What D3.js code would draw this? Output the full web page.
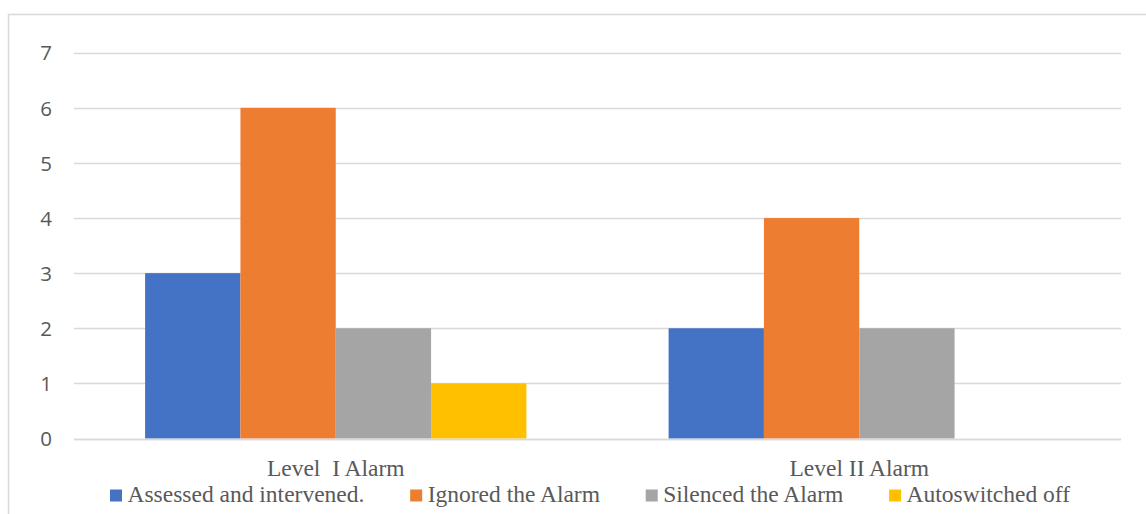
<!DOCTYPE html>
<html>
<head>
<meta charset="utf-8">
<script src="https://cdn.jsdelivr.net/npm/d3@7"></script>
<style>
  html, body { margin: 0; padding: 0; background: #fff; }
  svg { display: block; }
</style>
</head>
<body>
<svg id="chart" width="1146" height="514"></svg>
<script>
const categories = ["Level  I Alarm", "Level II Alarm"];
const seriesNames = ["Assessed and intervened.", "Ignored the Alarm", "Silenced the Alarm", "Autoswitched off"];
const seriesColors = ["#4472C4", "#ED7D31", "#A5A5A5", "#FFC000"];
const assessed = [3, 2];
const ignored = [6, 4];
const silenced = [2, 2];
const autoswitched = [1, 0];
const yTicks = [0, 1, 2, 3, 4, 5, 6, 7];

const seriesValues = [assessed, ignored, silenced, autoswitched];

const svg = d3.select("#chart");
const W = 1146, H = 514;

// outer border
svg.append("rect")
  .attr("x", 8.5).attr("y", 14.5)
  .attr("width", W + 10).attr("height", H + 10)
  .attr("fill", "none").attr("stroke", "#D9D9D9").attr("stroke-width", 1.5);

const plot = { left: 74, right: 1121, top: 52.7, bottom: 438.5 };

const y = d3.scaleLinear().domain([0, 7]).range([plot.bottom, plot.top]);
const x0 = d3.scaleBand().domain(categories).range([plot.left, plot.right]).paddingInner(0).paddingOuter(0);
const x1 = d3.scaleBand().domain(seriesNames)
  .range([0, x0.bandwidth()]).paddingInner(0).paddingOuter(0.746);

// gridlines
svg.append("g").selectAll("line").data(yTicks).join("line")
  .attr("x1", plot.left).attr("x2", plot.right)
  .attr("y1", d => Math.round(y(d)) + 0.5).attr("y2", d => Math.round(y(d)) + 0.5)
  .attr("stroke", "#D9D9D9").attr("stroke-width", 1.5);

// y axis labels
const yAxis = d3.axisLeft(y).tickValues(yTicks).tickSize(0).tickPadding(0).tickFormat(d3.format("d"));
const ya = svg.append("g").attr("transform", `translate(52,0)`).call(yAxis);
ya.select(".domain").remove();
ya.selectAll("text")
  .attr("fill", "#595959")
  .style("font-family", "'Open Sans', 'Noto Sans', sans-serif")
  .style("font-size", "20.5px")
  .attr("dy", "0.35em");

// bars
const groups = svg.append("g").selectAll("g").data(categories).join("g")
  .attr("transform", d => `translate(${x0(d)},0)`);
groups.selectAll("rect")
  .data((c, ci) => seriesNames.map((s, si) => ({ s, si, v: seriesValues[si][ci] })))
  .join("rect")
  .attr("x", d => x1(d.s))
  .attr("width", x1.bandwidth())
  .attr("y", d => y(d.v))
  .attr("height", d => y(0) - y(d.v))
  .attr("fill", d => seriesColors[d.si]);

// baseline (axis line) redraw over bars
svg.append("line")
  .attr("x1", plot.left).attr("x2", plot.right)
  .attr("y1", Math.round(y(0)) + 0.5).attr("y2", Math.round(y(0)) + 0.5)
  .attr("stroke", "#D9D9D9").attr("stroke-width", 1.5);

// x axis labels
const xAxis = d3.axisBottom(x0).tickSize(0).tickPadding(0);
const xa = svg.append("g").attr("transform", `translate(0,476)`).call(xAxis);
xa.select(".domain").remove();
xa.selectAll("text")
  .attr("dy", 0).attr("y", 0)
  .attr("fill", "#595959")
  .style("font-family", "'Liberation Serif', 'Times New Roman', serif")
  .style("font-size", "23.5px")
  .style("white-space", "pre")
  .attr("xml:space", "preserve");

// legend (spread between left and right limits)
const legend = svg.append("g").attr("transform", "translate(0,502)");
const legStart = 110, legEnd = 1070, textOff = 17.5;
const items = seriesNames.map((name, i) => {
  const g = legend.append("g");
  g.append("rect").attr("x", 0).attr("y", -12.5).attr("width", 12).attr("height", 12)
    .attr("fill", seriesColors[i]);
  const t = g.append("text").attr("x", textOff).attr("y", 0)
    .attr("fill", "#595959")
    .style("font-family", "'Liberation Serif', 'Times New Roman', serif")
    .style("font-size", "23.5px")
    .text(name);
  return { g, w: textOff + t.node().getComputedTextLength() };
});
const totalW = d3.sum(items, d => d.w);
const gap = (legEnd - legStart - totalW) / (items.length - 1);
let lx = legStart;
items.forEach(it => {
  it.g.attr("transform", `translate(${lx},0)`);
  lx += it.w + gap;
});
</script>
</body>
</html>
